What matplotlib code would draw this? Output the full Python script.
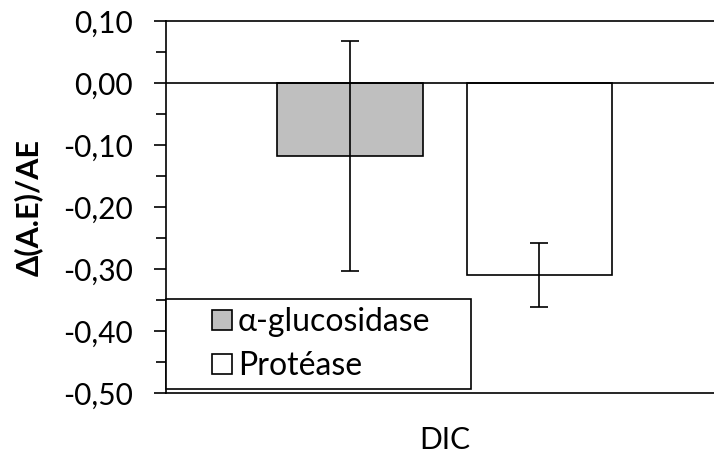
import matplotlib
matplotlib.use("Agg")
import matplotlib.pyplot as plt
from matplotlib.patches import Rectangle
from matplotlib.container import BarContainer
from matplotlib.legend_handler import HandlerPatch
from matplotlib.ticker import MultipleLocator, FuncFormatter

# data
series = ["α-glucosidase", "Protéase"]
values = [-0.118, -0.31]
errors = [0.186, 0.052]
colors = ["#BFBFBF", "#FFFFFF"]
category = "DIC"

plt.rcParams["font.family"] = ["Lato", "DejaVu Sans"]
FS = 21.5
LFS = 23

fig = plt.figure(figsize=(7.14, 4.55), dpi=100)
ax = fig.add_axes([0.2325, 0.1363, 0.7675, 0.8175])

for i, (name, v, e, c) in enumerate(zip(series, values, errors, colors)):
    ax.bar(i, v, width=0.77, color=c, edgecolor="black", linewidth=1.2,
           label=name, zorder=2)
    ax.errorbar(i, v, yerr=e, fmt="none", ecolor="black", elinewidth=1.2,
                capsize=6.5, capthick=1.2, zorder=3)

ax.axhline(0, color="black", linewidth=1.2, zorder=4)

ax.set_xlim(-0.971, 1.921)
ax.set_ylim(-0.50, 0.10)

ax.yaxis.set_major_locator(MultipleLocator(0.10))
ax.yaxis.set_minor_locator(MultipleLocator(0.05))
ax.yaxis.set_major_formatter(FuncFormatter(lambda v, p: f"{v:.2f}".replace(".", ",").replace("-0,00", "0,00")))
ax.tick_params(axis="y", which="major", length=9, width=1.2, pad=15, labelsize=FS)
ax.tick_params(axis="y", which="minor", length=7, width=1.2)

ax.set_xticks([0.5])
ax.set_xticklabels([category])
ax.tick_params(axis="x", length=0, pad=24, labelsize=FS)

for s in ["top", "bottom", "left"]:
    ax.spines[s].set_linewidth(1.2)
ax.spines["right"].set_visible(False)

ax.set_ylabel("Δ(A.E)/AE", fontsize=22, fontweight="bold")
ax.yaxis.set_label_coords(-0.2245, 0.5)


# square legend keys pushed to the right of a wide handle box
def square_key(legend, orig_handle, xdescent, ydescent, width, height, fontsize):
    side = 20 * 72 / fig.dpi
    return Rectangle((width - side - xdescent, (height - side) / 2 - ydescent), side, side)


def copy_style(legend_handle, orig_handle):
    src = orig_handle.patches[0]
    legend_handle.set_facecolor(src.get_facecolor())
    legend_handle.set_edgecolor("black")
    legend_handle.set_linewidth(1.2)


leg = ax.legend(loc="lower left", bbox_to_anchor=(0.0, 0.0095, 0.557, 0.2), mode="expand",
                frameon=True, fancybox=False, edgecolor="black", framealpha=1,
                fontsize=LFS, handlelength=1.81, handleheight=0.7, handletextpad=0.19,
                borderpad=0.25, labelspacing=0.45, borderaxespad=0,
                handler_map={BarContainer: HandlerPatch(patch_func=square_key,
                                                        update_func=copy_style)})
leg.get_frame().set_linewidth(1.2)
leg.set_zorder(5)

fig.savefig("out.png", dpi=100)
